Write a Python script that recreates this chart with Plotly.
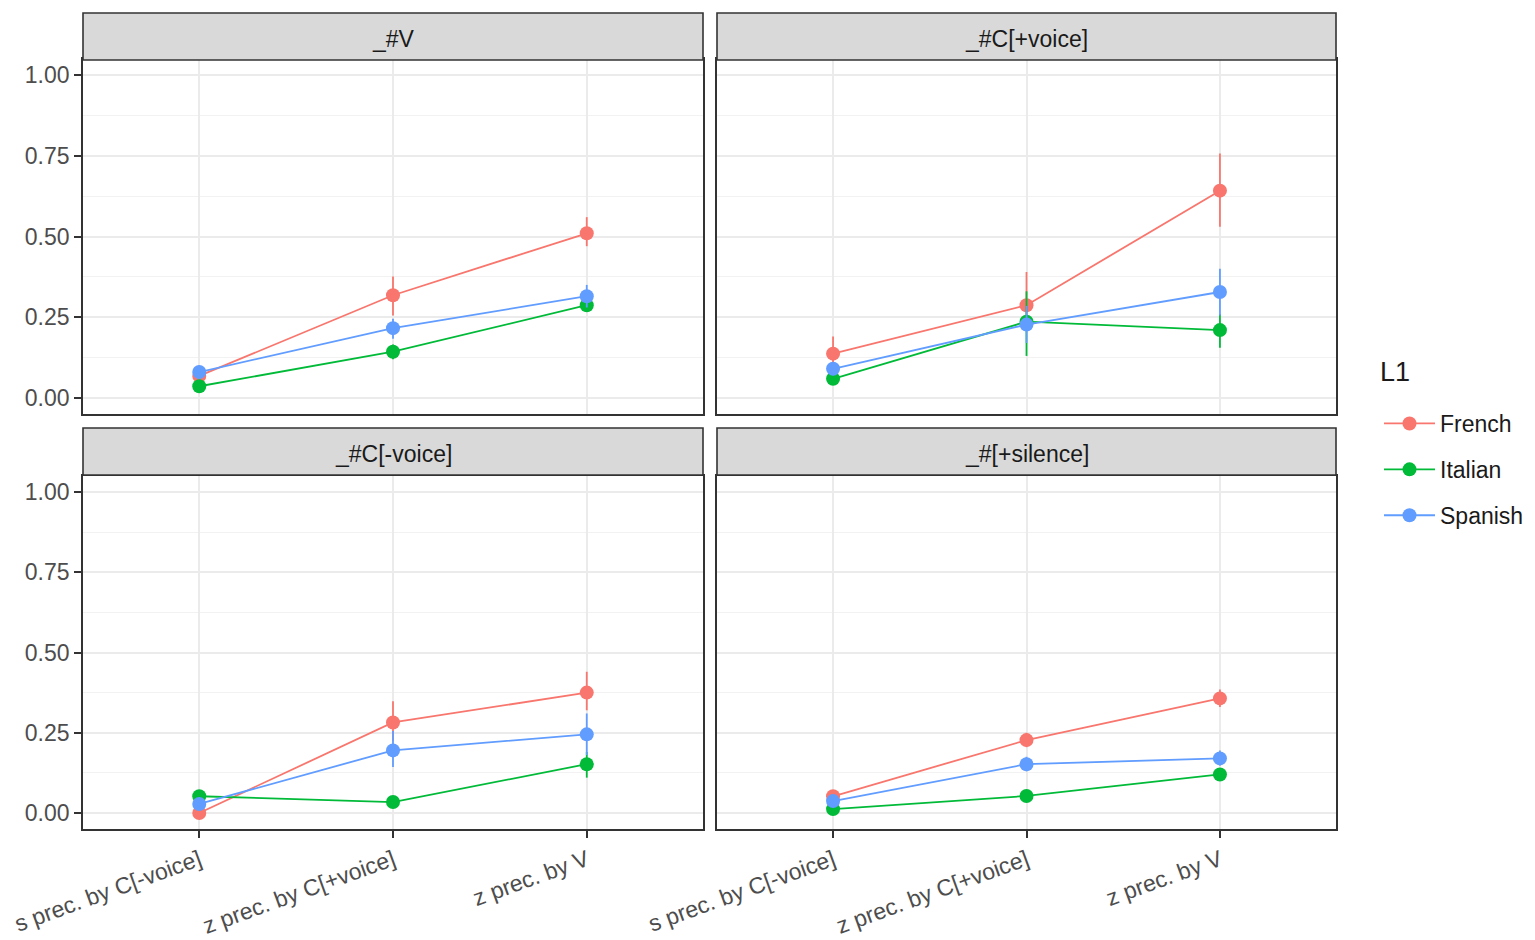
import plotly.graph_objects as go

# ---------------- data ----------------
contexts = ["s prec. by C[-voice]", "z prec. by C[+voice]", "z prec. by V"]
panels = ["_#V", "_#C[+voice]", "_#C[-voice]", "_#[+silence]"]
languages = ["French", "Italian", "Spanish"]

# per panel (order of `panels`), values per context
french_mean = [[0.068, 0.318, 0.51], [0.137, 0.287, 0.642], [0.0, 0.282, 0.375], [0.052, 0.227, 0.357]]
french_lo = [[0.05, 0.255, 0.47], [0.10, 0.22, 0.53], [0.0, 0.225, 0.32], [0.035, 0.205, 0.33]]
french_hi = [[0.09, 0.376, 0.56], [0.19, 0.39, 0.757], [0.01, 0.348, 0.44], [0.07, 0.25, 0.385]]

italian_mean = [[0.036, 0.143, 0.287], [0.059, 0.236, 0.21], [0.052, 0.034, 0.152], [0.012, 0.053, 0.12]]
italian_lo = [[0.02, 0.12, 0.27], [0.04, 0.13, 0.155], [0.035, 0.02, 0.11], [0.0, 0.038, 0.10]]
italian_hi = [[0.055, 0.165, 0.305], [0.08, 0.33, 0.26], [0.07, 0.05, 0.19], [0.025, 0.07, 0.14]]

spanish_mean = [[0.08, 0.216, 0.315], [0.09, 0.227, 0.328], [0.028, 0.195, 0.245], [0.037, 0.152, 0.17]]
spanish_lo = [[0.06, 0.183, 0.28], [0.07, 0.17, 0.255], [0.012, 0.143, 0.18], [0.022, 0.13, 0.148]]
spanish_hi = [[0.10, 0.245, 0.35], [0.11, 0.285, 0.40], [0.045, 0.255, 0.31], [0.052, 0.175, 0.195]]

y_ticks = [0.0, 0.25, 0.5, 0.75, 1.0]
y_ticklabels = ["0.00", "0.25", "0.50", "0.75", "1.00"]
legend_title = "L1"

# ---------------- style ----------------
colors = {"French": "#F8766D", "Italian": "#00BA38", "Spanish": "#619CFF"}
series = {
    "French": (french_mean, french_lo, french_hi),
    "Italian": (italian_mean, italian_lo, italian_hi),
    "Spanish": (spanish_mean, spanish_lo, spanish_hi),
}
FONT = "Liberation Sans, Arial, sans-serif"
W, H = 1535, 940
OFF = 8  # page body margin

def px(v):
    return (v - OFF) / W

def py(v):
    return 1 - (v - OFF) / H

# panel geometry in screen pixels: (x0, x1, y0_top, y1_bottom)
panel_px = [(83, 703, 59, 414), (717, 1336, 59, 414), (83, 703, 476, 829), (717, 1336, 476, 829)]
strip_px = [(13, 60), (13, 60), (428, 475), (428, 475)]

fig = go.Figure()

for p in range(4):
    ax = "" if p == 0 else str(p + 1)
    for lang in languages:
        mean, lo, hi = series[lang]
        m = mean[p]
        fig.add_trace(go.Scatter(
            x=contexts, y=m,
            xaxis="x" + ax, yaxis="y" + ax,
            mode="lines+markers",
            name=lang, legendgroup=lang, showlegend=(p == 0),
            line=dict(color=colors[lang], width=1.8),
            marker=dict(color=colors[lang], size=14),
            error_y=dict(type="data", symmetric=False,
                         array=[h - v for h, v in zip(hi[p], m)],
                         arrayminus=[v - l for v, l in zip(m, lo[p])],
                         color=colors[lang], thickness=1.8, width=0),
        ))

layout = dict(
    width=W, height=H,
    margin=dict(l=0, r=0, t=0, b=0),
    paper_bgcolor="white", plot_bgcolor="white",
    font=dict(family=FONT, color="#4D4D4D", size=23),
    legend=dict(
        x=px(1379), y=py(402), xanchor="left", yanchor="top",
        font=dict(size=23, color="#1A1A1A"),
        bgcolor="rgba(0,0,0,0)", tracegroupgap=13, itemwidth=51,
    ),
    shapes=[], annotations=[],
)

# legend title
layout["annotations"].append(dict(
    text=legend_title, xref="paper", yref="paper",
    x=px(1378), y=py(372), xanchor="left", yanchor="middle", showarrow=False,
    font=dict(size=27, color="#1A1A1A", family=FONT),
))

for p in range(4):
    x0, x1, yt, yb = panel_px[p]
    ax = "" if p == 0 else str(p + 1)
    left = p in (0, 2)
    bottom = p in (2, 3)
    layout["xaxis" + ax] = dict(
        domain=[px(x0), px(x1)], anchor="y" + ax,
        type="category", categoryorder="array", categoryarray=contexts,
        range=[-0.6, 2.6],
        showgrid=True, gridcolor="#EBEBEB", gridwidth=1.5,
        showline=True, mirror=True, linecolor="#333333", linewidth=1.6,
        ticks="outside" if bottom else "", ticklen=7, tickwidth=1.5, tickcolor="#333333",
        showticklabels=bottom, tickangle=-20,
        tickfont=dict(size=23, color="#4D4D4D"),
        zeroline=False, automargin=False,
    )
    layout["yaxis" + ax] = dict(
        domain=[py(yb), py(yt)], anchor="x" + ax,
        range=[-0.05, 1.05],
        tickvals=y_ticks, ticktext=y_ticklabels,
        showgrid=True, gridcolor="#EBEBEB", gridwidth=1.5,
        minor=dict(tickvals=[0.125, 0.375, 0.625, 0.875], showgrid=True,
                   gridcolor="#F2F2F2", gridwidth=1.2, ticks=""),
        showline=True, mirror=True, linecolor="#333333", linewidth=1.6,
        ticks="outside" if left else "", ticklen=7, tickwidth=1.5, tickcolor="#333333",
        showticklabels=left,
        tickfont=dict(size=23, color="#4D4D4D"),
        zeroline=False, automargin=False,
    )
    s0, s1 = strip_px[p]
    layout["shapes"].append(dict(
        type="rect", xref="paper", yref="paper",
        x0=px(x0), x1=px(x1), y0=py(s1), y1=py(s0),
        fillcolor="#D9D9D9", line=dict(color="#333333", width=1.6), layer="above",
    ))
    layout["annotations"].append(dict(
        text=panels[p], xref="paper", yref="paper",
        x=px((x0 + x1) / 2), y=py((s0 + s1) / 2 + 2),
        xanchor="center", yanchor="middle", showarrow=False,
        font=dict(size=23, color="#1A1A1A", family=FONT),
    ))

fig.update_layout(**layout)
fig.write_html("out.html")
